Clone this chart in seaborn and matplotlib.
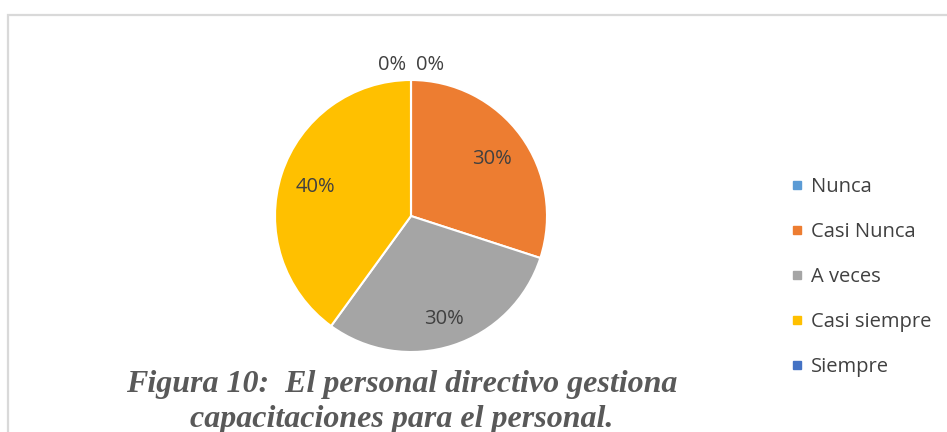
import numpy as np
import matplotlib
matplotlib.use("Agg")
import matplotlib.pyplot as plt
from matplotlib.lines import Line2D
from matplotlib.patches import Rectangle
import seaborn as sns

categories = ["Nunca", "Casi Nunca", "A veces", "Casi siempre", "Siempre"]
percentages = [0, 30, 30, 40, 0]
colors = ["#5B9BD5", "#ED7D31", "#A5A5A5", "#FFC000", "#4472C4"]
title_lines = ["Figura 10:  El personal directivo gestiona",
               "capacitaciones para el personal."]

sns.set_theme(style="white")
plt.rcParams["font.family"] = ["Open Sans", "DejaVu Sans"]

W, H, DPI = 947, 432, 100
fig = plt.figure(figsize=(W / DPI, H / DPI), dpi=DPI)
fig.patch.set_facecolor("white")

# light frame around the chart area
fig.add_artist(Rectangle((7.5 / W, -0.1), 1.2, (H - 14.5) / H + 0.1,
                         transform=fig.transFigure, fill=False,
                         edgecolor="#D9D9D9", linewidth=1.6))

cx, cy, r = 411, 216, 136
ax = fig.add_axes([(cx - r) / W, (H - cy - r) / H, 2 * r / W, 2 * r / H])
wedges, _ = ax.pie(percentages, colors=colors, startangle=90, counterclock=False,
                   wedgeprops=dict(edgecolor="white", linewidth=1.5))
ax.set_xlim(-1, 1)
ax.set_ylim(-1, 1)
ax.set_aspect("equal")
ax.axis("off")

label_color = "#404040"
label_size = 14.5
# radial placement of each value label (fraction of the radius)
label_radius = [1.13, 0.74, 0.78, 0.74, 1.13]
zero_offsets = {0: 0.14, 4: -0.14}
for i, (w, p) in enumerate(zip(wedges, percentages)):
    if p == 0:
        x, y = zero_offsets[i], label_radius[i]
    else:
        ang = np.deg2rad((w.theta1 + w.theta2) / 2)
        x, y = label_radius[i] * np.cos(ang), label_radius[i] * np.sin(ang)
    ax.text(x, y, f"{p}%", ha="center", va="center_baseline",
            fontsize=label_size, color=label_color)

handles = [Line2D([], [], marker="s", linestyle="", color=c, markersize=6)
           for c in colors]
fig.legend(handles, categories, loc="center left",
           bbox_to_anchor=(787 / W, (H - 277) / H), frameon=False,
           borderpad=0, borderaxespad=0,
           fontsize=label_size, labelcolor=label_color, handletextpad=0.2,
           labelspacing=1.25, handlelength=1.0)

for text, y_base in zip(title_lines, [392, 427]):
    fig.text(402 / W, (H - y_base) / H, text, ha="center", va="baseline",
             family="Liberation Serif", style="italic", weight="bold",
             fontsize=23, color="#595959")

fig.savefig("out.png", dpi=DPI)
